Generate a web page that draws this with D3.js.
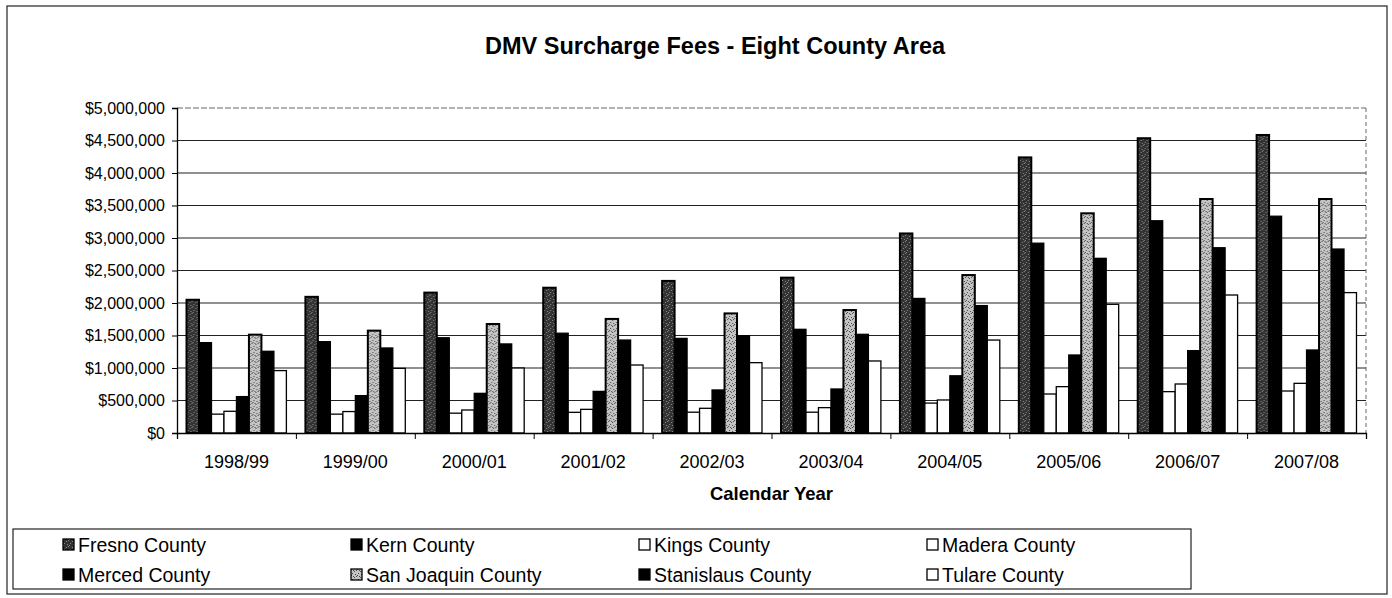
<!DOCTYPE html>
<html><head><meta charset="utf-8">
<script src="https://cdn.jsdelivr.net/npm/d3@7/dist/d3.min.js"></script>
<style>body{margin:0;background:#fff}svg{display:block}text{font-family:"Liberation Sans",Arial,sans-serif}</style>
</head><body><svg id="c" width="1392" height="598"></svg>
<script>
const years = ["1998/99","1999/00","2000/01","2001/02","2002/03","2003/04","2004/05","2005/06","2006/07","2007/08"];
const counties = ["Fresno County","Kern County","Kings County","Madera County","Merced County","San Joaquin County","Stanislaus County","Tulare County"];
const fresno     = [2050000,2095000,2160000,2235000,2340000,2390000,3070000,4240000,4535000,4585000];
const kern       = [1390000,1405000,1465000,1535000,1455000,1595000,2070000,2920000,3265000,3335000];
const kings      = [290000,290000,305000,318000,320000,320000,460000,600000,636000,646000];
const madera     = [334000,330000,354000,364000,380000,390000,508000,713000,754000,764000];
const merced     = [560000,575000,610000,640000,662000,677000,880000,1200000,1267000,1277000];
const sanJoaquin = [1513000,1575000,1677000,1755000,1840000,1892000,2430000,3380000,3600000,3600000];
const stanislaus = [1257000,1308000,1370000,1430000,1497000,1518000,1960000,2687000,2850000,2830000];
const tulare     = [960000,995000,1000000,1046000,1082000,1108000,1430000,1980000,2123000,2160000];
const seriesValues = [fresno,kern,kings,madera,merced,sanJoaquin,stanislaus,tulare];
const yTicks = [0,500000,1000000,1500000,2000000,2500000,3000000,3500000,4000000,4500000,5000000];

const fills = ["url(#patFresno)","#000","#fff","#fff","#000","url(#patSJ)","#000","#fff"];

const svg = d3.select("#c");
const defs = svg.append("defs");
function speckle(id, bg, dot, dens){
  const p = defs.append("pattern").attr("id",id).attr("patternUnits","userSpaceOnUse").attr("width",6).attr("height",6);
  p.append("rect").attr("width",6).attr("height",6).attr("fill",bg);
  dens.forEach(([x,y])=>p.append("rect").attr("x",x).attr("y",y).attr("width",1).attr("height",1).attr("fill",dot));
}
speckle("patFresno","#333","#8a8a8a",[[0,0],[3,2],[1,4],[4,5],[5,1]]);
speckle("patSJ","#c4c4c4","#4a4a4a",[[0,0],[3,2],[1,4],[4,5],[5,1],[2,1]]);

// outer border
svg.append("rect").attr("x",7).attr("y",6).attr("width",1380).attr("height",588).attr("fill","none").attr("stroke","#222").attr("stroke-width",1.2);

const m = {l:177, r:1366, t:108, b:433};
const x0 = d3.scaleBand().domain(years).range([m.l,m.r]).paddingInner(0.16).paddingOuter(0.08);
const x1 = d3.scaleBand().domain(counties).range([0,x0.bandwidth()]);
const y = d3.scaleLinear().domain([0,5000000]).range([m.b,m.t]);

// gridlines
svg.append("g").selectAll("line").data(yTicks.filter(d=>d>0)).join("line")
  .attr("x1",m.l).attr("x2",m.r).attr("y1",d=>y(d)).attr("y2",d=>y(d))
  .attr("stroke",d=>d===5000000?"#666":"#222").attr("stroke-width",1.2)
  .attr("stroke-dasharray",d=>d===5000000?"6,2":null);
svg.append("line").attr("x1",m.r).attr("x2",m.r).attr("y1",m.t).attr("y2",m.b).attr("stroke","#666").attr("stroke-dasharray","4,3");

// bars
const groups = svg.append("g").selectAll("g").data(years).join("g").attr("transform",d=>`translate(${x0(d)},0)`);
groups.selectAll("rect").data((d,i)=>counties.map((c,j)=>({c,j,v:seriesValues[j][i]}))).join("rect")
  .attr("x",d=>x1(d.c)).attr("width",x1.bandwidth())
  .attr("y",d=>y(d.v)).attr("height",d=>m.b-y(d.v))
  .attr("fill",d=>fills[d.j]).attr("stroke","#000").attr("stroke-width",d=>(d.j===0||d.j===5)?2:1.3);

// axes
const yAxis = d3.axisLeft(y).tickValues(yTicks).tickSize(5).tickFormat(d=>"$"+d3.format(",")(d));
const gy = svg.append("g").attr("transform",`translate(${m.l},0)`).call(yAxis);
gy.select(".domain").attr("stroke","#000").attr("stroke-width",1.3);
gy.selectAll(".tick line").attr("stroke","#000");
gy.selectAll(".tick text").attr("font-size",16).attr("fill","#000").attr("x",-12).attr("font-family","Liberation Sans, Arial, sans-serif");

const xAxis = d3.axisBottom(d3.scalePoint().domain(d3.range(years.length+1)).range([m.l,m.r])).tickSize(6).tickFormat("");
const gx = svg.append("g").attr("transform",`translate(0,${m.b})`).call(xAxis);
gx.select(".domain").attr("stroke","#000").attr("stroke-width",1.3);
gx.selectAll(".tick line").attr("stroke","#000");
svg.append("g").selectAll("text").data(years).join("text")
  .attr("x",d=>x0(d)+x0.bandwidth()/2).attr("y",468).attr("text-anchor","middle")
  .attr("font-size",18).text(d=>d);

// titles
svg.append("text").attr("x",715).attr("y",54).attr("text-anchor","middle").attr("font-size",23.5).attr("font-weight","bold").text("DMV Surcharge Fees - Eight County Area");
svg.append("text").attr("x",(m.l+m.r)/2).attr("y",500).attr("text-anchor","middle").attr("font-size",18.5).attr("font-weight","bold").text("Calendar Year");

// legend
svg.append("rect").attr("x",13).attr("y",529).attr("width",1178).attr("height",60).attr("fill","none").attr("stroke","#222").attr("stroke-width",1.2);
const lg = svg.append("g").selectAll("g").data(counties).join("g")
  .attr("transform",(d,i)=>`translate(${63+ (i%4)*288},${545+Math.floor(i/4)*30})`);
lg.append("rect").attr("x",0).attr("y",-6).attr("width",11).attr("height",11)
  .attr("fill",(d,i)=>fills[i]).attr("stroke","#000").attr("stroke-width",1.3);
lg.append("text").attr("x",15).attr("y",6.5).attr("font-size",19.5).text(d=>d);
</script></body></html>
